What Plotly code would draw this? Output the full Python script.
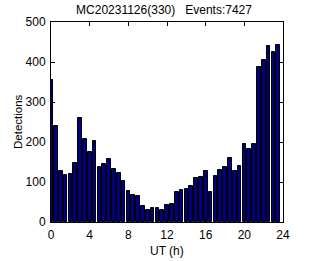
import plotly.graph_objects as go

hours = [i * 0.5 for i in range(48)]
counts = [355, 240, 128, 118, 120, 148, 260, 208, 175, 203,
          138, 145, 158, 133, 123, 103, 78, 68, 65, 40,
          30, 35, 35, 30, 42, 45, 75, 80, 82, 90,
          110, 112, 128, 75, 115, 130, 137, 160, 128, 140,
          195, 182, 195, 387, 405, 440, 425, 442]
title_text = "MC20231126(330)\u00a0\u00a0\u00a0Events:7427"
x_ticks = [0, 4, 8, 12, 16, 20, 24]
y_ticks = [0, 100, 200, 300, 400, 500]

fig = go.Figure(go.Bar(
    x=hours, y=counts, width=0.38,
    marker=dict(color="#000080", line=dict(color="black", width=1)),
))

font = dict(family="Liberation Sans, Arial, sans-serif", size=12, color="black")
axis_common = dict(showgrid=False, zeroline=False, showline=True, linecolor="black",
                   linewidth=1, mirror="ticks", ticks="inside", ticklen=4,
                   tickcolor="black", tickfont=font, automargin=False)
W, H = 313, 261
fig.update_layout(
    width=W, height=H,
    margin=dict(l=51, r=30, t=22, b=39),
    paper_bgcolor="white", plot_bgcolor="white",
    showlegend=False, bargap=0,
    title=dict(text=title_text, x=164 / W, xanchor="center", xref="container",
               y=1 - 10 / H, yanchor="middle", font=font),
    xaxis=dict(range=[0, 24], tickvals=x_ticks, ticklabelstandoff=2, **axis_common),
    yaxis=dict(range=[0, 500], tickvals=y_ticks, ticklabelstandoff=2, **axis_common),
    annotations=[
        dict(text="UT (h)", xref="paper", yref="paper", x=0.5, y=-29 / 200,
             xanchor="center", yanchor="middle", showarrow=False, font=font),
        dict(text="Detections", xref="paper", yref="paper", x=-33 / 232, y=0.5,
             xanchor="center", yanchor="middle", textangle=-90, showarrow=False,
             font=dict(font, size=11.5)),
    ],
)
fig.write_html("out.html")
